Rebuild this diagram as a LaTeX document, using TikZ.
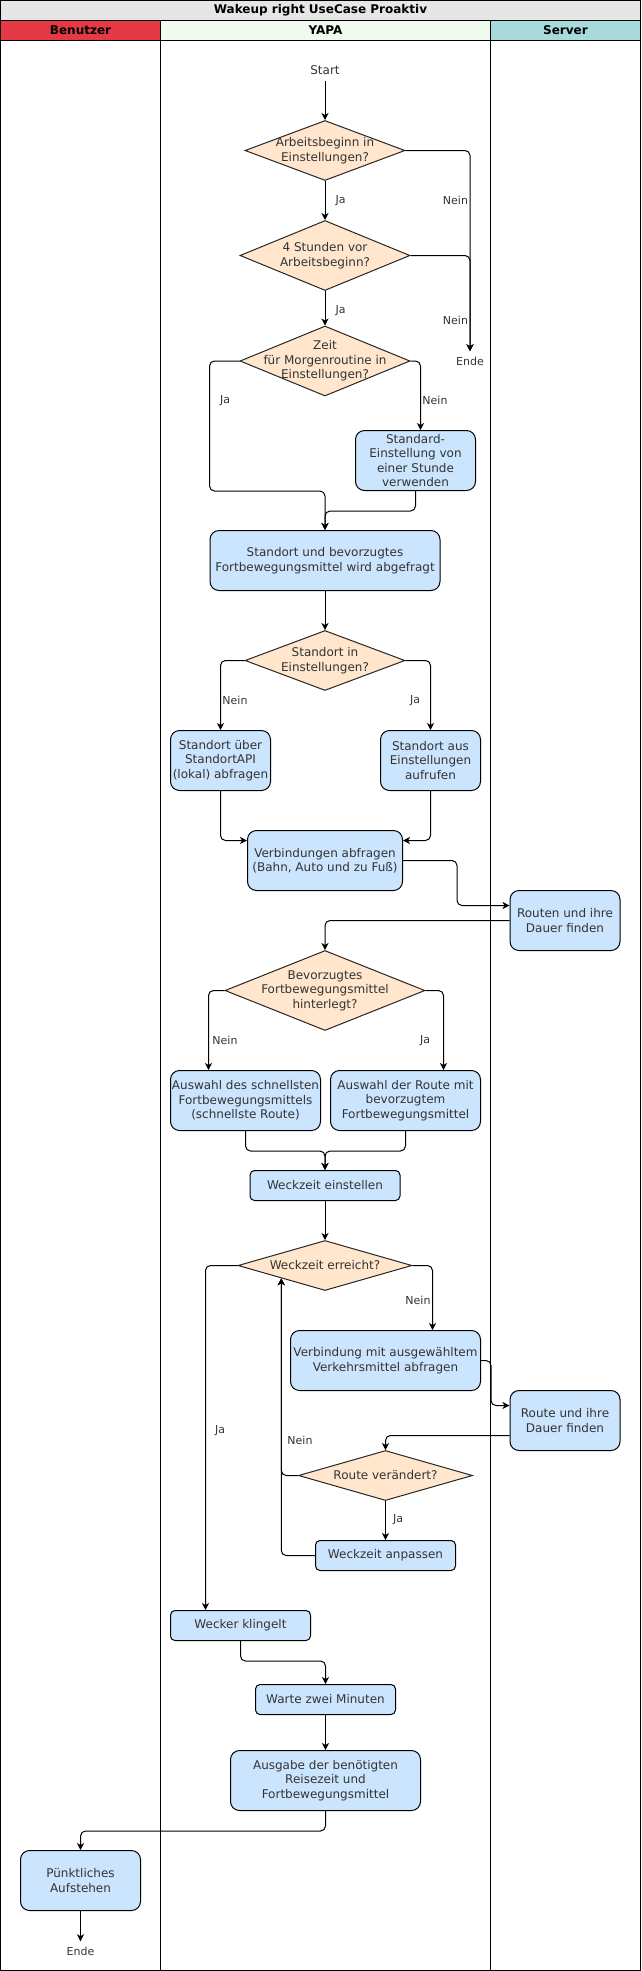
\documentclass[tikz,border=0pt]{standalone}
\usepackage{fontspec}
\setmainfont{DejaVu Sans}
\usetikzlibrary{shapes.geometric,arrows.meta}
\definecolor{titlegray}{HTML}{E6E6E6}
\definecolor{userred}{HTML}{E63946}
\definecolor{appgreen}{HTML}{F1FAEE}
\definecolor{serverteal}{HTML}{A8DADC}
\definecolor{boxblue}{HTML}{CCE5FF}
\definecolor{decorange}{HTML}{FFE6CC}
\definecolor{txtgray}{HTML}{333333}
\begin{document}
\begin{tikzpicture}[
  x=1pt, y=-1pt,
  font=\fontsize{12}{14.4}\selectfont,
  line width=1pt,
  >={Stealth[length=7pt,width=7pt,inset=2pt]},
  lhead/.style={draw, minimum height=20pt, inner sep=0pt, font=\fontsize{12}{14.4}\selectfont\bfseries},
  pbox/.style={draw, rounded corners=9pt, fill=boxblue, minimum height=60pt, inner sep=0pt, align=center, text=txtgray},
  sbox/.style={pbox, rounded corners=4.5pt, minimum height=30pt},
  dnode/.style={diamond, draw=black!85, fill=decorange, inner sep=0pt},
  dtext/.style={align=center, text=txtgray, inner sep=0pt},
  elabel/.style={font=\fontsize{11}{13.2}\selectfont, text=txtgray, inner sep=0pt},
  flow/.style={->, rounded corners=5pt}
]
  \useasboundingbox (0,0) rectangle (641,1971);
  % swimlanes
  \node[lhead, fill=titlegray, minimum width=640pt] (title) at (320.5,10.5) {Wakeup right UseCase Proaktiv};
  \node[lhead, fill=userred, minimum width=160pt] (hUser) at (80.5,30.5) {Benutzer};
  \node[lhead, fill=appgreen, minimum width=330pt] (hApp) at (325.5,30.5) {YAPA};
  \node[lhead, fill=serverteal, minimum width=150pt] (hServer) at (565.5,30.5) {Server};
  \draw (0.5,40.5) rectangle (160.5,1970.5);
  \draw (160.5,40.5) rectangle (490.5,1970.5);
  \draw (490.5,40.5) rectangle (640.5,1970.5);

  % YAPA
  \node[inner sep=0pt, inner ysep=5pt, text=txtgray] (start) at (325,70.5) {Start};
  \node[dnode, minimum width=160pt, minimum height=60pt,
    label={[dtext]center:{Arbeitsbeginn in\\Einstellungen?}}] (d1) at (325,150.5) {};
  \node[dnode, minimum width=170pt, minimum height=70pt,
    label={[dtext]center:{4 Stunden vor\\Arbeitsbeginn?}}] (d2) at (325,255.5) {};
  \node[elabel, inner ysep=5pt] (ende1) at (470,361) {Ende};
  \node[dnode, minimum width=170pt, minimum height=70pt,
    label={[dtext]center:{Zeit\\für Morgenroutine in\\Einstellungen?}}] (d3) at (325,361) {};
  \node[pbox, minimum width=120pt] (std) at (415.5,460.5) {Standard-\\Einstellung von\\einer Stunde\\verwenden};
  \node[pbox, minimum width=230pt] (abfr) at (325,560.5) {Standort und bevorzugtes\\Fortbewegungsmittel wird abgefragt};
  \node[dnode, minimum width=160pt, minimum height=60pt,
    label={[dtext]center:{Standort in\\Einstellungen?}}] (d4) at (325,660.5) {};
  \node[pbox, minimum width=100pt] (api) at (220.5,760.5) {Standort über\\StandortAPI\\(lokal) abfragen};
  \node[pbox, minimum width=100pt] (einst) at (430.5,760.5) {Standort aus\\Einstellungen\\aufrufen};
  \node[pbox, minimum width=155pt] (verb) at (325,860.5) {Verbindungen abfragen\\(Bahn, Auto und zu Fuß)};
  \node[dnode, minimum width=200pt, minimum height=80pt,
    label={[dtext]center:{Bevorzugtes\\Fortbewegungsmittel\\hinterlegt?}}] (d5) at (325,990.5) {};
  \node[pbox, minimum width=150pt] (schnell) at (245.5,1100.5) {Auswahl des schnellsten\\Fortbewegungsmittels\\(schnellste Route)};
  \node[pbox, minimum width=150pt] (bevorz) at (405.5,1100.5) {Auswahl der Route mit\\bevorzugtem\\Fortbewegungsmittel};
  \node[sbox, minimum width=150pt] (wset) at (325,1185.5) {Weckzeit einstellen};
  \node[dnode, minimum width=174pt, minimum height=50pt,
    label={[dtext]center:{Weckzeit erreicht?}}] (d6) at (325,1265.5) {};
  \node[pbox, minimum width=190pt] (vma) at (385.5,1360.5) {Verbindung mit ausgewähltem\\Verkehrsmittel abfragen};
  \node[dnode, minimum width=174pt, minimum height=50pt,
    label={[dtext]center:{Route verändert?}}] (d7) at (385.5,1475.5) {};
  \node[sbox, minimum width=140pt] (wadj) at (385.5,1555.5) {Weckzeit anpassen};
  \node[sbox, minimum width=140pt] (ring) at (240.5,1625.5) {Wecker klingelt};
  \node[sbox, minimum width=140pt] (wait) at (325.5,1699.5) {Warte zwei Minuten};
  \node[pbox, minimum width=190pt] (out) at (325.5,1780.5) {Ausgabe der benötigten\\Reisezeit und\\Fortbewegungsmittel};

  % Server
  \node[pbox, minimum width=110pt] (routen) at (565,920.5) {Routen und ihre\\Dauer finden};
  \node[pbox, minimum width=110pt] (route) at (565,1420.5) {Route und ihre\\Dauer finden};

  % Benutzer
  \node[pbox, minimum width=120pt] (wake) at (80.5,1880.5) {Pünktliches\\Aufstehen};
  \node[elabel, inner ysep=5pt] (ende2) at (80.5,1951) {Ende};

  % labels
  \node[elabel] (ja1) at (340.5,200.5) {Ja};
  \node[elabel] (nein1) at (455.5,200.5) {Nein};
  \node[elabel] (ja2) at (340.5,310.5) {Ja};
  \node[elabel] (nein2) at (455.5,320.5) {Nein};
  \node[elabel] (ja3) at (225,400.5) {Ja};
  \node[elabel] (nein3) at (435,400.5) {Nein};
  \node[elabel] (nein4) at (235,700.5) {Nein};
  \node[elabel] (ja4) at (415,700.5) {Ja};
  \node[elabel] (nein5) at (225,1040.5) {Nein};
  \node[elabel] (ja5) at (425,1040.5) {Ja};
  \node[elabel] (nein6) at (418,1300.5) {Nein};
  \node[elabel] (ja6) at (220,1430.5) {Ja};
  \node[elabel] (nein7) at (300,1440.5) {Nein};
  \node[elabel] (ja7) at (398,1520) {Ja};

  % connectors
  \draw[->] (start) -- (d1);
  \draw[flow] (d1.east) -| (ende1);
  \draw[->] (d1) -- (d2);
  \draw[flow] (d2.east) -| (ende1);
  \draw[->] (d2) -- (d3);
  \draw[flow] (d3.west) -| ++(-30,130) -| (abfr.north);
  \draw[flow] (d3.east) -| ([xshift=5pt]std.north);
  \draw[flow] (std.south) -- ++(0,20) -| (abfr.north);
  \draw[->] (abfr) -- (d4);
  \draw[flow] (d4.west) -| (api.north);
  \draw[flow] (d4.east) -| (einst.north);
  \draw[flow] (api.south) |- ([yshift=20pt]verb.west);
  \draw[flow] (einst.south) |- ([yshift=20pt]verb.east);
  \draw[flow] (verb.east) -- ++(54,0) |- ([yshift=15pt]routen.west);
  \draw[flow] (routen.west) -| (d5.north);
  \draw[flow] (d5.west) -| ([xshift=-37pt]schnell.north);
  \draw[flow] (d5.east) -| ([xshift=38pt]bevorz.north);
  \draw[flow] (schnell.south) -- ++(0,20) -| (wset.north);
  \draw[flow] (bevorz.south) -- ++(0,20) -| (wset.north);
  \draw[->] (wset) -- (d6);
  \draw[flow] (d6.west) -| ([xshift=-35pt]ring.north);
  \draw[flow] (d6.east) -| ([xshift=47pt]vma.north);
  \draw[flow] (vma.east) -- ++(10,0) |- ([yshift=15pt]route.west);
  \draw[flow] ([yshift=-15pt]route.west) -| (d7.north);
  \draw[flow] (d7.west) -| (d6.south west);
  \draw[->] (d7) -- (wadj);
  \draw[flow] (wadj.west) -| (d6.south west);
  \draw[flow] (ring.south) -- ++(0,20) -| (wait.north);
  \draw[->] (wait) -- (out);
  \draw[flow] (out.south) -- ++(0,20) -| (wake.north);
  \draw[->] (wake) -- (ende2);
\end{tikzpicture}
\end{document}
